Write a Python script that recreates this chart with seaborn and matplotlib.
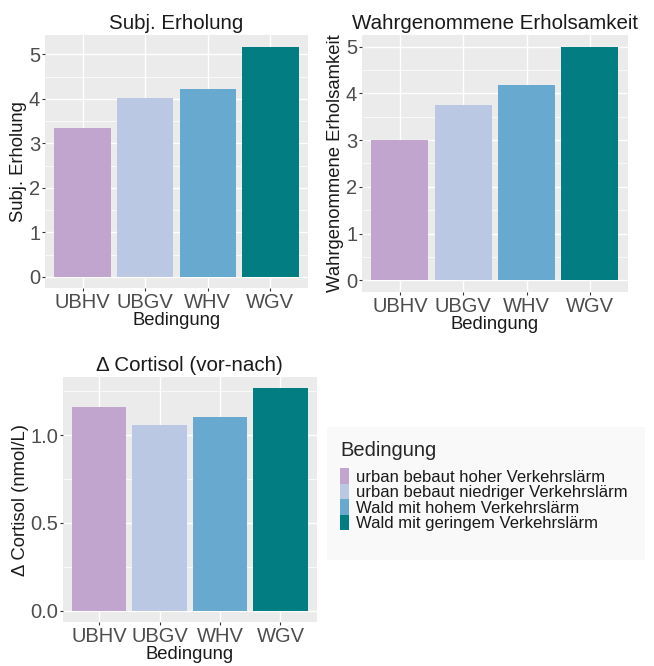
import matplotlib
matplotlib.use("Agg")
import matplotlib.pyplot as plt
from matplotlib.patches import Patch, Rectangle
from matplotlib.ticker import MultipleLocator, FormatStrFormatter
import seaborn as sns
import pandas as pd

categories = ["UBHV", "UBGV", "WHV", "WGV"]
legend_labels = ["urban bebaut hoher Verkehrslärm", "urban bebaut niedriger Verkehrslärm",
                 "Wald mit hohem Verkehrslärm", "Wald mit geringem Verkehrslärm"]
subj_erholung = [3.35, 4.03, 4.22, 5.17]
wahrg_erholsamkeit = [3.00, 3.76, 4.18, 5.00]
delta_cortisol = [1.16, 1.055, 1.10, 1.265]
colors = ["#c2a5cf", "#bbc8e3", "#67a9cf", "#027d81"]

sns.set_theme(style="darkgrid")
plt.rcParams['font.family'] = ['Liberation Sans', 'DejaVu Sans']
plt.rcParams['axes.facecolor'] = '#EBEBEB'
plt.rcParams['grid.color'] = 'white'

fig = plt.figure(figsize=(6.54, 6.66), dpi=100)
palette = dict(zip(categories, colors))

def panel(rect, values, title, ylabel, ylim, major, minor, fmt=None):
    ax = fig.add_axes(rect)
    df = pd.DataFrame({"Bedingung": categories, "v": values})
    sns.barplot(data=df, x="Bedingung", y="v", hue="Bedingung", palette=palette,
                order=categories, hue_order=categories, width=0.9, saturation=1,
                legend=False, ax=ax, linewidth=0, edgecolor='none')
    ax.set_xlim(-0.6, 3.6)
    ax.set_ylim(*ylim)
    ax.yaxis.set_major_locator(MultipleLocator(major))
    ax.yaxis.set_minor_locator(MultipleLocator(minor))
    if fmt:
        ax.yaxis.set_major_formatter(fmt)
    ax.grid(which='major', color='white', linewidth=1.0)
    ax.grid(which='minor', axis='y', color='white', linewidth=0.5)
    ax.set_axisbelow(True)
    for s in ax.spines.values():
        s.set_visible(False)
    ax.tick_params(axis='both', which='major', labelsize=14.5, labelcolor='#4d4d4d',
                   length=2.5, width=0.8, color='#333333', pad=1, left=True, bottom=True)
    ax.tick_params(axis='y', which='minor', length=0)
    ax.set_title(title, fontsize=14.8, color='#1a1a1a', pad=4)
    ax.set_xlabel("Bedingung", fontsize=13.3, color='#1a1a1a', labelpad=0)
    ax.set_ylabel(ylabel, fontsize=13.3, color='#1a1a1a', labelpad=1)
    return ax

panel([0.0688, 0.5676, 0.402, 0.380], subj_erholung, "Subj. Erholung", "Subj. Erholung",
      (-0.25, 5.44), 1, 0.5)
panel([0.5535, 0.5616, 0.4067, 0.386], wahrg_erholsamkeit, "Wahrgenommene Erholsamkeit",
      "Wahrgenommene Erholsamkeit", (-0.25, 5.25), 1, 0.5)
panel([0.0963, 0.066, 0.388, 0.368], delta_cortisol, "Δ Cortisol (vor-nach)",
      "Δ Cortisol (nmol/L)", (-0.063, 1.33), 0.5, 0.25,
      fmt=FormatStrFormatter('%.1f'))

# faint legend background box
fig.patches.append(Rectangle((327 / 654, 1 - 560 / 666), 318 / 654, 133 / 666,
                             transform=fig.transFigure, facecolor='#f9f9f9',
                             edgecolor='none', zorder=0))

handles = [Patch(facecolor=c, edgecolor='none') for c in colors]
leg = fig.legend(handles, legend_labels, title="Bedingung", loc='upper left',
                 bbox_to_anchor=(0.52, 0.338), frameon=False, fontsize=12,
                 title_fontsize=14.5, handlelength=0.55, handleheight=1.05,
                 labelspacing=-0.05, handletextpad=0.4, borderpad=0,
                 borderaxespad=0)
leg._legend_box.align = "left"
leg._legend_box.sep = 6
for t in leg.get_texts():
    t.set_color('#1a1a1a')

fig.savefig("out.png", dpi=100)
